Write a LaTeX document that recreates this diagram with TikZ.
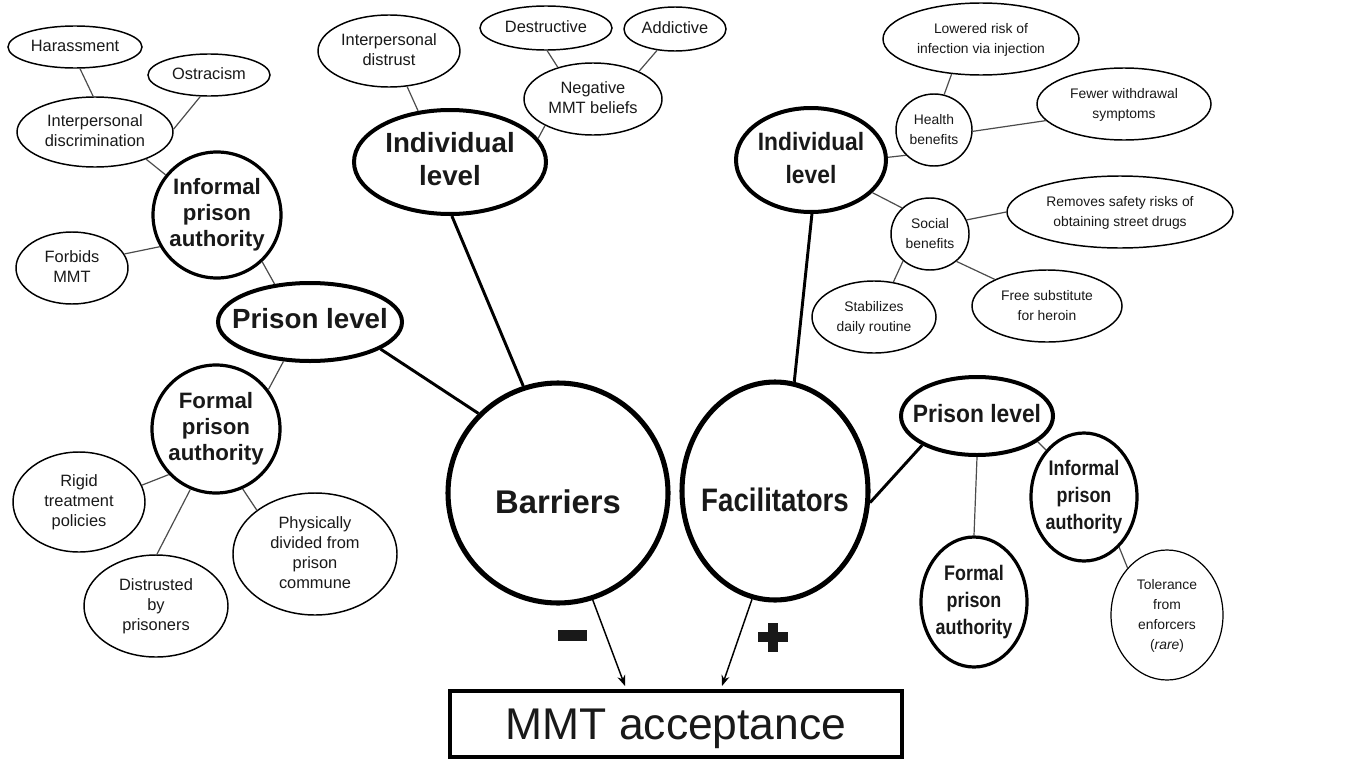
\documentclass[tikz,border=0pt]{standalone}
\usepackage{fontspec}
\setmainfont{Liberation Sans}
\newfontfamily\nara[FakeStretch=0.91]{Liberation Sans}
\newfontfamily\narb[FakeStretch=0.85]{Liberation Sans}
\usetikzlibrary{shapes.geometric,arrows.meta}
\newcommand{\ct}[1]{\makebox[0pt]{\begin{tabular}{@{}c@{}}#1\end{tabular}}}
\tikzset{
 sz/.style 2 args={minimum width=1.5pt*#1, minimum height=1.5pt*#2},
 base/.style={ellipse, draw, inner sep=0pt, text=black!90},
 leaf/.style={base, line width=1.1pt, font=\fontsize{12.3}{15}\selectfont},
 rleaf/.style={base, line width=1.1pt, font=\fontsize{10.4}{15}\selectfont},
 lvl/.style={base, line width=3pt, font=\bfseries\fontsize{20.8}{25}\selectfont},
 rlvl/.style={base, line width=3pt, font=\nara\bfseries\fontsize{18.8}{25}\selectfont},
 auth/.style={base, line width=2.4pt, font=\bfseries\fontsize{16.7}{19.5}\selectfont},
 rauth/.style={base, line width=2.4pt, font=\narb\bfseries\fontsize{15.8}{20}\selectfont},
 core/.style={base, line width=3.8pt, font=\bfseries\fontsize{24.6}{30}\selectfont},
 thin/.style={draw=black!70, line width=0.9pt},
 thick/.style={draw=black, line width=2.2pt},
 arr/.style={draw=black, line width=1.1pt, -{Stealth[length=8pt,width=6pt]}},
 sign/.style={fill=black!90},
}
\begin{document}
\begin{tikzpicture}[x=0.75pt,y=-0.75pt]
\fill[white] (0,0) rectangle (1362,760);
\useasboundingbox (0,0) rectangle (1362,760);
% ---------- left (barriers) ----------
\node[leaf, sz={67}{21}] (har) at (75,47) {\ct{Harassment}};
\node[leaf, sz={61}{21}] (ost) at (209,75) {\ct{Ostracism}};
\node[leaf, sz={78}{35}] (idis) at (95,132) {\ct{Interpersonal\\discrimination}};
\node[auth, sz={64}{63}] (linf) at (217,215) {\ct{Informal\\prison\\authority}};
\node[leaf, sz={56}{36}] (forb) at (72,268) {\ct{Forbids\\MMT}};
\node[lvl, sz={92}{39}] (lpl) at (310,322) {\ct{Prison level}};
\node[auth, sz={64}{64}] (lfor) at (216,429) {\ct{Formal\\prison\\authority}};
\node[leaf, sz={66}{50}] (rig) at (79,502) {\ct{Rigid\\treatment\\policies}};
\node[leaf, sz={72}{51}] (dis) at (156,606) {\ct{Distrusted\\by\\prisoners}};
\node[leaf, sz={82}{61}] (phy) at (315,554) {\ct{Physically\\divided from\\prison\\commune}};
\node[leaf, sz={71}{36}] (idst) at (389,51) {\ct{Interpersonal\\distrust}};
\node[leaf, sz={66}{22}] (des) at (546,28) {\ct{Destructive}};
\node[leaf, sz={51}{22}] (add) at (675,29) {\ct{Addictive}};
\node[leaf, sz={69}{36}] (neg) at (593,99) {\ct{Negative\\MMT beliefs}};
\node[lvl, sz={96}{52}] (lind) at (450,162) {\ct{Individual\\level}};
\node[core, sz={110}{110}] (bar) at (558,493) {\raisebox{-15.5pt}[0pt][0pt]{\makebox[0pt]{Barriers}}};
% ---------- right (facilitators) ----------
\node[core, sz={93}{109}, font=\narb\bfseries\fontsize{24.4}{30}\selectfont] (fac) at (775,491) {\raisebox{-15.5pt}[0pt][0pt]{\makebox[0pt]{Facilitators}}};
\node[rlvl, sz={75}{52}] (rind) at (811,160) {\ct{Individual\\level}};
\node[rleaf, sz={98}{36}] (low) at (981,39) {\ct{Lowered risk of\\infection via injection}};
\node[rleaf, sz={38}{36}] (hea) at (934,130) {\ct{Health\\benefits}};
\node[rleaf, sz={87}{36}] (few) at (1124,104) {\ct{Fewer withdrawal\\symptoms}};
\node[rleaf, sz={39}{36}] (soc) at (930,234) {\ct{Social\\benefits}};
\node[rleaf, sz={113}{36}] (rem) at (1120,212) {\ct{Removes safety risks of\\obtaining street drugs}};
\node[rleaf, sz={62}{36}] (sta) at (874,317) {\ct{Stabilizes\\daily routine}};
\node[rleaf, sz={75}{36}] (fre) at (1047,306) {\ct{Free substitute\\for heroin}};
\node[rlvl, sz={76}{39}] (rpl) at (977,416) {\ct{Prison level}};
\node[rauth, sz={53}{65}] (rfor) at (974,602) {\ct{Formal\\prison\\authority}};
\node[rauth, sz={53}{64}] (rinf) at (1084,497) {\ct{Informal\\prison\\authority}};
\node[rleaf, sz={56}{65}, line width=0.9pt] (tol) at (1167,615) {\ct{Tolerance\\from\\enforcers\\(\textit{rare})}};
% ---------- outcome ----------
\node[draw, rectangle, line width=3pt, minimum width=339pt, minimum height=49.5pt, inner sep=0pt,
      font=\fontsize{33.3}{37}\selectfont, text=black!90] (mmt) at (676,724) {\raisebox{-11.9pt}[0pt][0pt]{\makebox[0pt]{MMT acceptance}}};
\coordinate (ta) at (625,686);
\coordinate (tb) at (722,686);
% ---------- connectors ----------
\draw[thin] (har.283) -- (idis.93);
\draw[thin] (ost.248) -- (idis.2);
\draw[thin] (idis.332) -- (linf.142);
\draw[thin] (forb.15) -- (linf.209);
\draw[thin] (linf.314) -- (lpl.133);
\draw[thin] (lpl.236) -- (lfor.37);
\draw[thin] (lfor.224) -- (rig.15);
\draw[thin] (lfor.247) -- (dis.89);
\draw[thin] (lfor.294) -- (phy.143);
\draw[thick] (lpl.339) -- (bar.135);
\draw[thick] (lind.272) -- (bar.108);
\draw[thin] (idst.297) -- (lind.122);
\draw[thin] (des.273) -- (neg.138);
\draw[thin] (add.230) -- (neg.31);
\draw[thin] (neg.209) -- (lind.15);
\draw[thick] (rind.271) -- (fac.80);
\draw[thin] (rind.2) -- (hea.222);
\draw[thin] (rind.332) -- (soc.137);
\draw[thin] (hea.74) -- (low.230);
\draw[thin] (hea.358) -- (few.192);
\draw[thin] (soc.21) -- (rem.180);
\draw[thin] (soc.225) -- (sta.61);
\draw[thin] (soc.314) -- (fre.153);
\draw[thick] (fac.353) -- (rpl.208);
\draw[thin] (rpl.270) -- (rfor.90);
\draw[thin] (rpl.337) -- (rinf.129);
\draw[thin] (rinf.305) -- (tol.130);
\draw[arr] (bar.288) -- (ta);
\draw[arr] (fac.258) -- (tb);
% ---------- signs ----------
\fill[sign] (558,630) rectangle (587,641);
\fill[sign] (758,632) rectangle (788,642);
\fill[sign] (768,623) rectangle (778,652);
\end{tikzpicture}
\end{document}
